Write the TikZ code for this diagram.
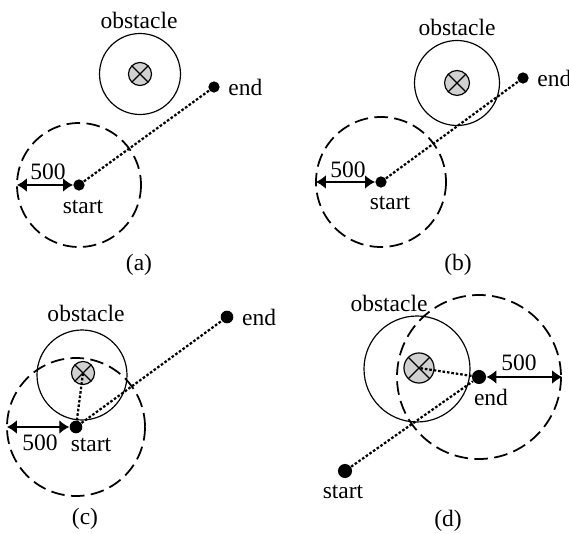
\documentclass[tikz,border=0pt]{standalone}
\usepackage{fontspec}
\setmainfont{Liberation Serif}
\usetikzlibrary{arrows.meta}
\begin{document}
\begin{tikzpicture}[x=0.4255pt,y=-0.4255pt,
  stopdot/.style={circle,fill=black,inner sep=0pt,minimum size=4.8pt},
  target/.style={circle,draw,line width=0.5pt,fill=black!18,inner sep=0pt,minimum size=9.8pt,
    path picture={\draw[line width=0.5pt]
      (path picture bounding box.north west)--(path picture bounding box.south east)
      (path picture bounding box.north east)--(path picture bounding box.south west);}},
  obst/.style={line width=0.5pt},
  reach/.style={line width=0.75pt,dash pattern=on 5.8pt off 2.7pt},
  route/.style={line width=0.95pt,dash pattern=on 1.1pt off 0.8pt},
  dim/.style={{Latex[length=4.2pt,width=5.8pt]}-{Latex[length=4.2pt,width=5.8pt]},line width=0.55pt}]
\useasboundingbox (0,0) rectangle (569,534);

% (a)
\node[target] (xa) at (140,74) {};
\draw[obst] (xa.center) circle (40.5);
\node (oa) at (139,20) {obstacle};
\node[stopdot] (ea) at (214,87) {};
\node[right] (lea) at (ea.east) {end};
\node[stopdot] (sa) at (79,185) {};
\node (lsa) at (83,207) {start};
\draw[reach] (sa.center) circle (62);
\coordinate (ra) at (17,185);
\draw[dim] (sa) -- (ra);
\node (na) at (48,172) {500};
\draw[route] (sa) -- (ea);
\node (ca) at (139,265) {(a)};

% (b)
\node[target,minimum size=10.6pt] (xb) at (457,83) {};
\draw[obst] (xb.center) circle (42.5);
\node (ob) at (457,27) {obstacle};
\node[stopdot] (eb) at (523,78) {};
\node[right] (leb) at (eb.east) {end};
\node[stopdot] (sb) at (381,182) {};
\node (lsb) at (390,203) {start};
\draw[reach] (sb.center) circle (65);
\coordinate (rb) at (316,182);
\draw[dim] (sb) -- (rb);
\node (nb) at (348,170) {500};
\draw[route] (sb) -- (eb);
\node (cb) at (458,265) {(b)};

% (c)
\node[target] (xc) at (83,373) {};
\draw[obst] (82,375) circle (45);
\node (oc) at (86,313) {obstacle};
\node[stopdot,minimum size=5.4pt] (ec) at (227,317) {};
\node[right] (lec) at (ec.east) {end};
\node[stopdot,minimum size=5.4pt] (sc) at (76,427) {};
\node (lsc) at (91,445) {start};
\draw[reach] (sc.center) circle (69);
\coordinate (rc) at (7,427);
\draw[dim] (sc) -- (rc);
\node (nc) at (40,443) {500};
\draw[route] (sc) -- (ec);
\draw[route] (sc) -- (xc.center);
\node (cc) at (85,519) {(c)};

% (d)
\node[target,minimum size=12.8pt] (xd) at (419,368) {};
\draw[obst] (417,369) circle (53);
\node (od) at (389,303) {obstacle};
\node[stopdot,minimum size=6pt] (ed) at (479,377) {};
\node (led) at (491,397) {end};
\node[stopdot,minimum size=6pt] (sd) at (345,471) {};
\node (lsd) at (343,492) {start};
\draw[reach] (ed.center) circle (82);
\coordinate (rd) at (562,377);
\draw[dim] (ed) -- (rd);
\node (nd) at (519,363) {500};
\draw[route] (sd) -- (ed);
\draw[route] (ed) -- (xd.center);
\node (cd) at (448,521) {(d)};
\end{tikzpicture}
\end{document}
